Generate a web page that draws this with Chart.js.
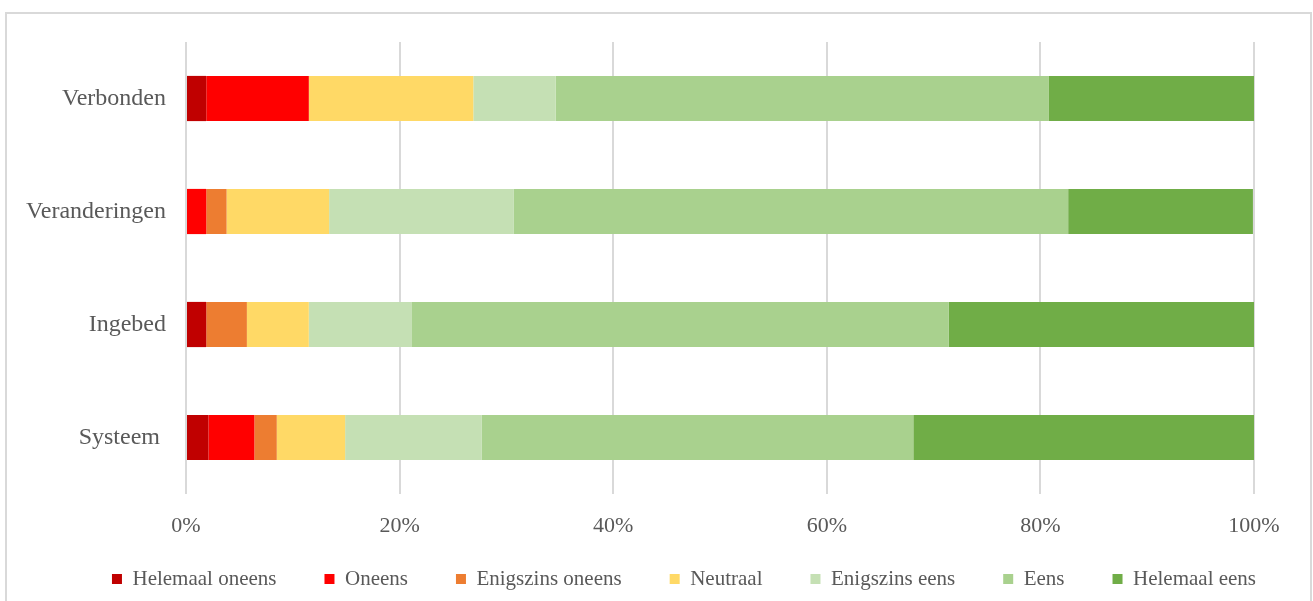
<!DOCTYPE html>
<html>
<head>
<meta charset="utf-8">
<script src="https://cdn.jsdelivr.net/npm/chart.js@4/dist/chart.umd.min.js"></script>
<style>
  body { margin: 0; background: #fff; }
  #wrap { position: relative; width: 1313px; height: 601px; overflow: hidden; }
  #frame { position: absolute; left: 5px; top: 12px; width: 1303px; height: 640px; border: 2px solid #d9d9d9; }
  canvas { position: absolute; left: 0; top: 0; }
</style>
</head>
<body>
<div id="wrap">
  <div id="frame"></div>
  <canvas id="chart" width="1313" height="601"></canvas>
</div>
<script>
// Categories (top to bottom) and share per answer, in percent
const categories = ["Verbonden", "Veranderingen", "Ingebed", "Systeem "];
const helemaalOneens = [1.9, 0, 1.9, 2.1];
const oneens = [9.6, 1.9, 0, 4.3];
const enigszinsOneens = [0, 1.9, 3.8, 2.1];
const neutraal = [15.4, 9.6, 5.8, 6.4];
const enigszinsEens = [7.7, 17.3, 9.6, 12.8];
const eens = [46.2, 51.9, 50.3, 40.4];
const helemaalEens = [19.2, 17.3, 28.6, 31.9];
const tickStep = 20;

const font = "'Liberation Serif', 'Times New Roman', serif";
const textColor = "#595959";

// tick labels are clipped to their axis box, so widen the boxes after layout
const unclipLabels = {
  id: "unclipLabels",
  afterLayout(chart) {
    chart.scales.y.left = 0;
    chart.scales.x.bottom = chart.height;
  }
};

const ctx = document.getElementById("chart").getContext("2d");
new Chart(ctx, {
  type: "bar",
  data: {
    labels: categories,
    datasets: [
      { label: "Helemaal oneens", data: helemaalOneens, backgroundColor: "#C00000" },
      { label: "Oneens", data: oneens, backgroundColor: "#FF0000" },
      { label: "Enigszins oneens", data: enigszinsOneens, backgroundColor: "#ED7D31" },
      { label: "Neutraal", data: neutraal, backgroundColor: "#FFD966" },
      { label: "Enigszins eens", data: enigszinsEens, backgroundColor: "#C5E0B4" },
      { label: "Eens", data: eens, backgroundColor: "#A9D18E" },
      { label: "Helemaal eens", data: helemaalEens, backgroundColor: "#70AD47" }
    ]
  },
  plugins: [unclipLabels],
  options: {
    indexAxis: "y",
    responsive: false,
    animation: false,
    datasets: { bar: { barPercentage: 0.4, categoryPercentage: 1, borderWidth: 0 } },
    layout: { padding: { top: 42, left: 58, right: 3, bottom: 1.5 } },
    scales: {
      x: {
        stacked: true,
        min: 0,
        max: 100,
        ticks: {
          stepSize: tickStep,
          padding: 19,
          color: textColor,
          font: { family: font, size: 22 },
          callback: v => v + "%"
        },
        grid: { color: "#d9d9d9", lineWidth: 2, drawTicks: false },
        border: { display: false },
        afterFit: s => { s.height = 26.5; }
      },
      y: {
        stacked: true,
        ticks: { padding: 20, color: textColor, font: { family: font, size: 24 } },
        grid: { display: false, drawTicks: false },
        border: { display: false },
        afterFit: s => { s.width = 128; }
      },
      // empty spacer so the legend can stay centred under the whole frame
      yRight: {
        type: "category",
        position: "right",
        ticks: { display: false },
        grid: { display: false, drawTicks: false },
        border: { display: false },
        afterFit: s => { s.width = 56; }
      }
    },
    plugins: {
      tooltip: { enabled: false },
      legend: {
        position: "bottom",
        labels: {
          boxWidth: 10,
          boxHeight: 10,
          padding: 48,
          color: textColor,
          font: { family: font, size: 21 }
        }
      }
    }
  }
});
</script>
</body>
</html>
